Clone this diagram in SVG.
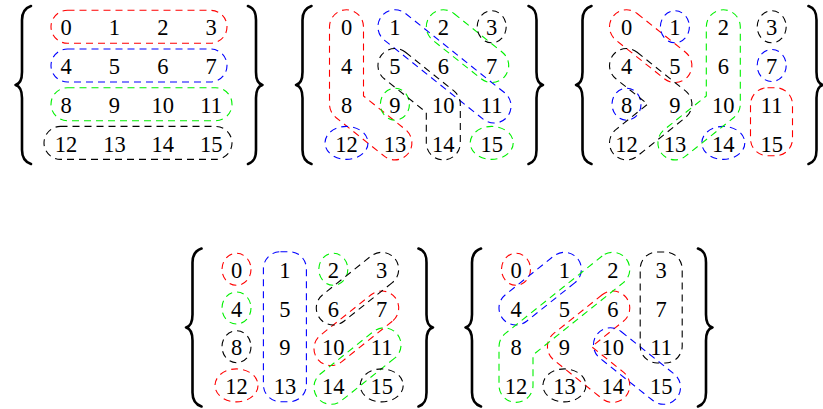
<svg xmlns="http://www.w3.org/2000/svg" width="823" height="409" viewBox="0 0 823 409">
<style>
.n{font-family:"Liberation Serif","DejaVu Serif",serif;font-size:22.5px;text-anchor:middle;fill:#000}
.s{fill:none;stroke-width:1.1;stroke-dasharray:7 5}
.r{stroke:#ff0000}.b{stroke:#0000ff}.g{stroke:#00f000}.k{stroke:#000}
.br{fill:none;stroke:#000;stroke-width:2.6;stroke-linecap:round;stroke-linejoin:round}
</style>
<defs>
<g id="braces">
<path class="br" d="M31,6 C25,8 22,12 22,20 L22,72 C22,80 19.5,84 15.5,85 C19.5,86 22,90 22,98 L22,150 C22,158 25,162 31,164"/>
<path class="br" d="M248,6 C254,8 256,12 256,20 L256,72 C256,80 258.5,84 262.5,85 C258.5,86 256,90 256,98 L256,150 C256,158 254,162 248,164"/>
</g>
</defs>

<g id="matrix1">
<use href="#braces"/>
<g id="m1-groups">
<rect class="s r" x="51" y="10.3" width="176" height="33" rx="16.5"/>
<rect class="s b" x="51" y="49" width="176" height="33" rx="16.5"/>
<rect class="s g" x="51" y="87.7" width="181" height="33" rx="16.5"/>
<rect class="s k" x="44" y="126.4" width="188" height="33" rx="16.5"/>
</g>
<g id="m1-nums">
<text class="n" x="66" y="35.4">0</text><text class="n" x="114.4" y="35.4">1</text><text class="n" x="162.8" y="35.4">2</text><text class="n" x="211.2" y="35.4">3</text>
<text class="n" x="66" y="74.1">4</text><text class="n" x="114.4" y="74.1">5</text><text class="n" x="162.8" y="74.1">6</text><text class="n" x="211.2" y="74.1">7</text>
<text class="n" x="66" y="112.8">8</text><text class="n" x="114.4" y="112.8">9</text><text class="n" x="162.8" y="112.8">10</text><text class="n" x="211.2" y="112.8">11</text>
<text class="n" x="66" y="151.5">12</text><text class="n" x="114.4" y="151.5">13</text><text class="n" x="162.8" y="151.5">14</text><text class="n" x="211.2" y="151.5">15</text>
</g>
</g>

<g id="matrix2" transform="translate(280.5,0)">
<use href="#braces"/>
<g id="m2-groups">
<path class="s r" d="M83,26.8 A17,17 0 0 0 49,26.8 L49,104.2 A17,17 0 0 0 55.38,117.48 L103.78,156.18 A17,17 0 0 0 125.02,129.62 L83,96.02 Z"/>
<rect class="s b" x="-17" y="-17" width="160.94" height="34" rx="17" transform="translate(114.4,26.8) rotate(38.64)"/>
<ellipse class="s b" cx="66" cy="142.9" rx="21.5" ry="16.5"/>
<rect class="s g" x="-17" y="-17" width="95.97" height="34" rx="17" transform="translate(162.8,26.8) rotate(38.64)"/>
<ellipse class="s g" cx="114.4" cy="104.2" rx="14.5" ry="16"/>
<ellipse class="s g" cx="211.2" cy="142.9" rx="21.5" ry="16.5"/>
<ellipse class="s k" cx="211.2" cy="26.8" rx="14.5" ry="16"/>
<path class="s k" d="M125.02,52.22 L173.42,90.92 A17,17 0 0 1 179.8,104.2 L179.8,142.9 A17,17 0 0 1 145.8,142.9 L145.8,112.38 L103.78,78.78 A17,17 0 0 1 125.02,52.22 Z"/>
</g>
<g id="m2-nums">
<text class="n" x="66" y="35.4">0</text><text class="n" x="114.4" y="35.4">1</text><text class="n" x="162.8" y="35.4">2</text><text class="n" x="211.2" y="35.4">3</text>
<text class="n" x="66" y="74.1">4</text><text class="n" x="114.4" y="74.1">5</text><text class="n" x="162.8" y="74.1">6</text><text class="n" x="211.2" y="74.1">7</text>
<text class="n" x="66" y="112.8">8</text><text class="n" x="114.4" y="112.8">9</text><text class="n" x="162.8" y="112.8">10</text><text class="n" x="211.2" y="112.8">11</text>
<text class="n" x="66" y="151.5">12</text><text class="n" x="114.4" y="151.5">13</text><text class="n" x="162.8" y="151.5">14</text><text class="n" x="211.2" y="151.5">15</text>
</g>
</g>

<g id="matrix3" transform="translate(560.5,0)">
<use href="#braces"/>
<g id="m3-groups">
<rect class="s r" x="-17" y="-17" width="95.97" height="34" rx="17" transform="translate(66,26.8) rotate(38.64)"/>
<rect class="s r" x="190" y="87.7" width="42" height="68" rx="17"/>
<ellipse class="s b" cx="114.4" cy="26.8" rx="14.5" ry="16"/>
<ellipse class="s b" cx="211.2" cy="65.5" rx="14.5" ry="16"/>
<ellipse class="s b" cx="66" cy="104.2" rx="14.5" ry="16"/>
<ellipse class="s b" cx="162.8" cy="142.9" rx="21.5" ry="16.5"/>
<path class="s g" d="M145.8,26.8 A17,17 0 0 1 179.8,26.8 L179.8,104.2 A17,17 0 0 1 173.42,117.48 L125.02,156.18 A17,17 0 0 1 103.78,129.62 L145.8,96.02 Z"/>
<ellipse class="s k" cx="211.2" cy="26.8" rx="14.5" ry="16"/>
<path class="s k" d="M76.62,52.22 L125.02,90.92 A17,17 0 0 1 125.02,117.48 L76.62,156.18 A17,17 0 0 1 55.38,129.62 L87.17,104.2 L55.38,78.78 A17,17 0 0 1 76.62,52.22 Z"/>
</g>
<g id="m3-nums">
<text class="n" x="66" y="35.4">0</text><text class="n" x="114.4" y="35.4">1</text><text class="n" x="162.8" y="35.4">2</text><text class="n" x="211.2" y="35.4">3</text>
<text class="n" x="66" y="74.1">4</text><text class="n" x="114.4" y="74.1">5</text><text class="n" x="162.8" y="74.1">6</text><text class="n" x="211.2" y="74.1">7</text>
<text class="n" x="66" y="112.8">8</text><text class="n" x="114.4" y="112.8">9</text><text class="n" x="162.8" y="112.8">10</text><text class="n" x="211.2" y="112.8">11</text>
<text class="n" x="66" y="151.5">12</text><text class="n" x="114.4" y="151.5">13</text><text class="n" x="162.8" y="151.5">14</text><text class="n" x="211.2" y="151.5">15</text>
</g>
</g>

<g id="matrix4" transform="translate(170.5,242.5)">
<use href="#braces"/>
<g id="m4-groups">
<ellipse class="s r" cx="66" cy="26.8" rx="14.5" ry="16"/>
<ellipse class="s r" cx="66" cy="142.9" rx="21.5" ry="16.5"/>
<rect class="s r" x="-17" y="-17" width="98.97" height="34" rx="17" transform="translate(211.2,65.5) rotate(141.36)"/>
<rect class="s b" x="92.9" y="9.2" width="43" height="150" rx="17"/>
<ellipse class="s g" cx="162.8" cy="26.8" rx="14.5" ry="16"/>
<ellipse class="s g" cx="66" cy="65.5" rx="14.5" ry="16"/>
<rect class="s g" x="-20" y="-17" width="101.97" height="34" rx="17" transform="translate(211.2,104.2) rotate(141.36)"/>
<rect class="s k" x="-17" y="-17" width="95.97" height="34" rx="17" transform="translate(211.2,26.8) rotate(141.36)"/>
<ellipse class="s k" cx="66" cy="104.2" rx="14.5" ry="16"/>
<ellipse class="s k" cx="211.2" cy="142.9" rx="21.5" ry="16.5"/>
</g>
<g id="m4-nums">
<text class="n" x="66" y="35.4">0</text><text class="n" x="114.4" y="35.4">1</text><text class="n" x="162.8" y="35.4">2</text><text class="n" x="211.2" y="35.4">3</text>
<text class="n" x="66" y="74.1">4</text><text class="n" x="114.4" y="74.1">5</text><text class="n" x="162.8" y="74.1">6</text><text class="n" x="211.2" y="74.1">7</text>
<text class="n" x="66" y="112.8">8</text><text class="n" x="114.4" y="112.8">9</text><text class="n" x="162.8" y="112.8">10</text><text class="n" x="211.2" y="112.8">11</text>
<text class="n" x="66" y="151.5">12</text><text class="n" x="114.4" y="151.5">13</text><text class="n" x="162.8" y="151.5">14</text><text class="n" x="211.2" y="151.5">15</text>
</g>
</g>

<g id="matrix5" transform="translate(450,242.5)">
<use href="#braces"/>
<g id="m5-groups">
<ellipse class="s r" cx="66" cy="26.8" rx="14.5" ry="16"/>
<path class="s r" d="M152.18,52.22 L103.78,90.92 A17,17 0 0 0 103.78,117.48 L152.18,156.18 A17,17 0 0 0 173.42,129.62 L141.63,104.2 L173.42,78.78 A17,17 0 0 0 152.18,52.22 Z"/>
<rect class="s b" x="-17" y="-17" width="95.97" height="34" rx="17" transform="translate(114.4,26.8) rotate(141.36)"/>
<rect class="s b" x="-20" y="-17" width="101.97" height="34" rx="17" transform="translate(162.8,104.2) rotate(38.64)"/>
<path class="s g" d="M152.18,13.52 L55.38,90.92 A17,17 0 0 0 49,104.2 L49,142.9 A17,17 0 0 0 83,142.9 L83,112.38 L173.42,40.08 A17,17 0 0 0 152.18,13.52 Z"/>
<rect class="s k" x="190.2" y="9.5" width="42" height="111" rx="17"/>
<ellipse class="s k" cx="114.4" cy="142.9" rx="21.5" ry="16.5"/>
</g>
<g id="m5-nums">
<text class="n" x="66" y="35.4">0</text><text class="n" x="114.4" y="35.4">1</text><text class="n" x="162.8" y="35.4">2</text><text class="n" x="211.2" y="35.4">3</text>
<text class="n" x="66" y="74.1">4</text><text class="n" x="114.4" y="74.1">5</text><text class="n" x="162.8" y="74.1">6</text><text class="n" x="211.2" y="74.1">7</text>
<text class="n" x="66" y="112.8">8</text><text class="n" x="114.4" y="112.8">9</text><text class="n" x="162.8" y="112.8">10</text><text class="n" x="211.2" y="112.8">11</text>
<text class="n" x="66" y="151.5">12</text><text class="n" x="114.4" y="151.5">13</text><text class="n" x="162.8" y="151.5">14</text><text class="n" x="211.2" y="151.5">15</text>
</g>
</g>
</svg>
